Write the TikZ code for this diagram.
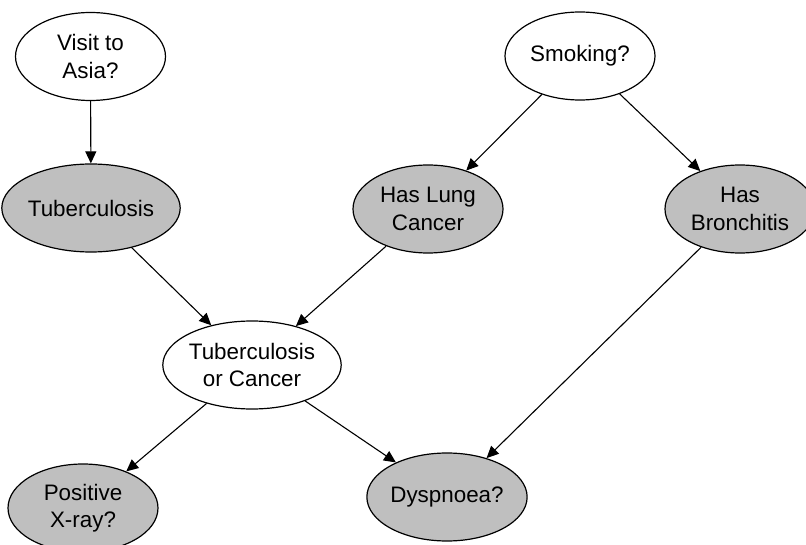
\documentclass[tikz,border=0pt]{standalone}
\usepackage{fontspec}
\setmainfont{Liberation Sans}
\usetikzlibrary{shapes.geometric, arrows.meta}
\begin{document}
\begin{tikzpicture}[x=1pt, y=-1pt,
  var/.style={ellipse, draw=black, line width=1.2pt, minimum width=150pt,
              minimum height=88pt, inner sep=0pt, align=center,
              font=\fontsize{22.4}{27.5}\selectfont},
  hidden/.style={var, fill=white},
  observed/.style={var, fill=black!25},
  link/.style={line width=1.1pt, -{Triangle[length=12pt, width=11pt]}}]

  % page frame
  \useasboundingbox (0,0) rectangle (806,545);
  \clip (0,0) rectangle (806,545);

  % variables
  \node[hidden]   (asia)  at (90.5,56.5) {Visit to\\Asia?};
  \node[hidden]   (smoke) at (580,56)    {Smoking?};
  \node[observed] (tub)   at (91,208)    {Tuberculosis};
  \node[observed] (lung)  at (428,209)   {Has Lung\\Cancer};
  \node[observed] (bron)  at (740,209)   {Has\\Bronchitis};
  \node[hidden]   (toc)   at (252,365)   {Tuberculosis\\or Cancer};
  \node[observed] (xray)  at (83,508)    {Positive\\X-ray?};
  \node[observed] (dysp)  at (447,497)   {Dyspnoea?};

  % dependencies
  \draw[link] (asia)  -- (tub);
  \draw[link] (smoke) -- (lung);
  \draw[link] (smoke) -- (bron);
  \draw[link] (tub)   -- (toc);
  \draw[link] (lung)  -- (toc);
  \draw[link] (toc)   -- (xray);
  \draw[link] (toc)   -- (dysp);
  \draw[link] (bron)  -- (dysp);
\end{tikzpicture}
\end{document}
